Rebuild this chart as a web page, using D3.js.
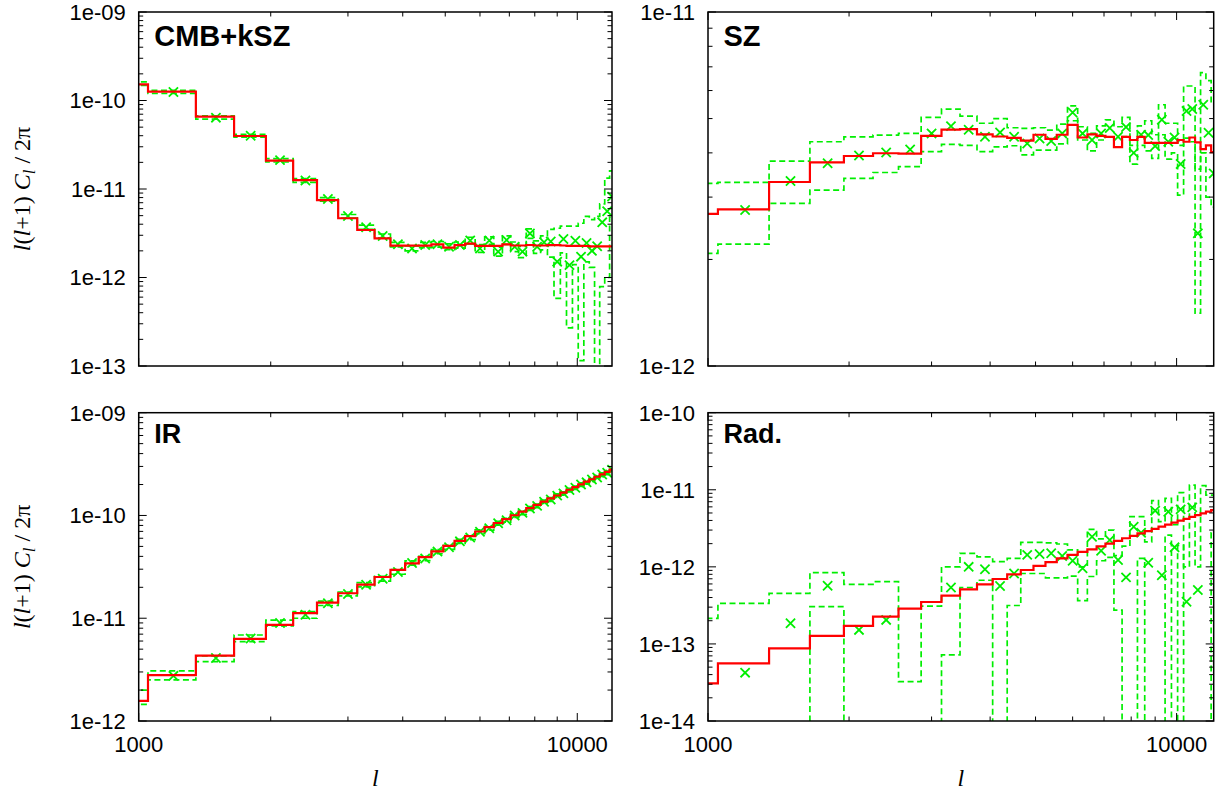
<!DOCTYPE html>
<html>
<head>
<meta charset='utf-8'>
<script src='https://d3js.org/d3.v7.min.js'></script>
<style>
  body { margin: 0; background: #fff; }
</style>
</head>
<body>
<div id='chart'></div>
<script>
// bin centres in l (bins are 300 wide)
const ells = [900, 1200, 1500, 1800, 2100, 2400, 2700, 3000, 3300, 3600,
              3900, 4200, 4500, 4800, 5100, 5400, 5700, 6000, 6300, 6600,
              6900, 7200, 7500, 7800, 8100, 8400, 8700, 9000, 9300, 9600,
              9900, 10200, 10500, 10800, 11100, 11400, 11700, 12000];
const binHalf = 150;
const lRange = [1000, 12000];

// CMB+kSZ
const cmbModel = [1.52e-10, 1.26e-10, 6.56e-11, 3.97e-11, 2.09e-11, 1.26e-11, 7.5e-12, 4.67e-12, 3.44e-12, 2.77e-12,
                  2.29e-12, 2.29e-12, 2.29e-12, 2.37e-12, 2.17e-12, 2.32e-12, 2.41e-12, 2.28e-12, 2.28e-12, 2.28e-12,
                  2.37e-12, 2.3e-12, 2.3e-12, 2.33e-12, 2.3e-12, 2.3e-12, 2.32e-12, 2.32e-12, 2.3e-12, 2.28e-12,
                  2.28e-12, 2.28e-12, 2.27e-12, 2.25e-12, 2.25e-12, 2.25e-12, 2.25e-12, 2.25e-12];
const cmbData = [1.55e-10, 1.25e-10, 6.4e-11, 4.0e-11, 2.12e-11, 1.25e-11, 7.7e-12, 4.95e-12, 3.7e-12, 2.94e-12,
                 2.37e-12, 2.13e-12, 2.33e-12, 2.37e-12, 2.23e-12, 2.33e-12, 2.62e-12, 2.13e-12, 2.62e-12, 1.96e-12,
                 2.65e-12, 2.23e-12, 1.96e-12, 3.15e-12, 2.23e-12, 2.5e-12, 2.55e-12, 1.51e-12, 2.72e-12, 1.38e-12,
                 2.6e-12, 1.72e-12, 2.45e-12, 2.0e-12, 2.25e-12, 4.2e-12, 5.6e-12, 8.2e-12];
const cmbHi = [1.62e-10, 1.3e-10, 6.7e-11, 4.15e-11, 2.2e-11, 1.31e-11, 8.0e-12, 5.15e-12, 3.9e-12, 3.1e-12,
               2.5e-12, 2.28e-12, 2.5e-12, 2.55e-12, 2.4e-12, 2.52e-12, 2.85e-12, 2.35e-12, 2.88e-12, 2.2e-12,
               2.95e-12, 2.52e-12, 2.25e-12, 3.55e-12, 2.6e-12, 2.95e-12, 3.5e-12, 3.6e-12, 3.8e-12, 3.8e-12,
               3.8e-12, 4.1e-12, 4.9e-12, 4.5e-12, 4.9e-12, 6.8e-12, 1.33e-11, 1.6e-11];
const cmbLo = [1.48e-10, 1.2e-10, 6.15e-11, 3.85e-11, 2.02e-11, 1.19e-11, 7.3e-12, 4.7e-12, 3.5e-12, 2.8e-12,
               2.22e-12, 2.0e-12, 2.17e-12, 2.2e-12, 2.07e-12, 2.15e-12, 2.4e-12, 1.92e-12, 2.37e-12, 1.74e-12,
               2.37e-12, 1.96e-12, 1.68e-12, 2.77e-12, 1.87e-12, 2.05e-12, 1.7e-12, 5.8e-13, 1.9e-12, 2.7e-13,
               1.4e-12, 1.15e-13, 1.5e-12, 1.3e-12, 0, 7.9e-13, 1.0e-12, 4.8e-12];

// SZ
const szModel = [2.69e-12, 2.77e-12, 3.31e-12, 3.76e-12, 3.92e-12, 3.99e-12, 3.98e-12, 4.47e-12, 4.65e-12, 4.67e-12,
                 4.51e-12, 4.45e-12, 4.41e-12, 4.33e-12, 4.5e-12, 4.38e-12, 4.5e-12, 4.8e-12, 4.42e-12, 4.51e-12,
                 4.47e-12, 4.44e-12, 4.15e-12, 4.44e-12, 4.35e-12, 4.44e-12, 4.27e-12, 4.27e-12, 4.27e-12, 4.27e-12,
                 4.27e-12, 4.35e-12, 4.3e-12, 4.42e-12, 4.28e-12, 4.1e-12, 4.2e-12, 4.02e-12];
const szData = [2.7e-12, 2.76e-12, 3.33e-12, 3.74e-12, 3.93e-12, 4.01e-12, 4.09e-12, 4.54e-12, 4.76e-12, 4.65e-12,
                4.44e-12, 4.57e-12, 4.44e-12, 4.25e-12, 4.39e-12, 4.32e-12, 4.54e-12, 5.2e-12, 4.54e-12, 4.35e-12,
                4.54e-12, 4.7e-12, 4.44e-12, 4.73e-12, 4.0e-12, 4.5e-12, 4.49e-12, 4.18e-12, 4.96e-12, 4.3e-12,
                4.42e-12, 3.72e-12, 5.25e-12, 5.32e-12, 2.37e-12, 5.47e-12, 4.56e-12, 3.5e-12];
const szHi = [3.28e-12, 3.3e-12, 3.79e-12, 4.3e-12, 4.44e-12, 4.49e-12, 4.54e-12, 5.04e-12, 5.32e-12, 5.08e-12,
              4.85e-12, 5.0e-12, 4.71e-12, 4.69e-12, 4.71e-12, 4.64e-12, 4.82e-12, 5.43e-12, 4.74e-12, 4.54e-12,
              4.77e-12, 4.96e-12, 4.74e-12, 5.04e-12, 4.2e-12, 4.77e-12, 4.93e-12, 4.5e-12, 5.47e-12, 4.85e-12,
              4.85e-12, 4.2e-12, 6.18e-12, 6.18e-12, 3.6e-12, 6.74e-12, 6.4e-12, 5.5e-12];
const szLo = [2.08e-12, 2.21e-12, 2.88e-12, 3.14e-12, 3.39e-12, 3.52e-12, 3.66e-12, 4.03e-12, 4.23e-12, 4.2e-12,
              4.03e-12, 4.16e-12, 4.19e-12, 3.95e-12, 4.07e-12, 4.07e-12, 4.24e-12, 4.93e-12, 4.35e-12, 4.05e-12,
              4.35e-12, 4.44e-12, 4.15e-12, 4.45e-12, 3.72e-12, 4.2e-12, 4.05e-12, 3.86e-12, 4.5e-12, 3.84e-12,
              4.0e-12, 3.04e-12, 4.4e-12, 4.3e-12, 1.41e-12, 4.0e-12, 3.0e-12, 2.81e-12];

// IR
const irModel = [1.57e-12, 2.79e-12, 4.33e-12, 6.3e-12, 8.6e-12, 1.12e-11, 1.42e-11, 1.75e-11, 2.12e-11, 2.52e-11,
                 2.95e-11, 3.42e-11, 3.93e-11, 4.47e-11, 5.05e-11, 5.66e-11, 6.3e-11, 6.98e-11, 7.7e-11, 8.45e-11,
                 9.23e-11, 1.005e-10, 1.09e-10, 1.18e-10, 1.27e-10, 1.365e-10, 1.465e-10, 1.565e-10, 1.67e-10, 1.78e-10,
                 1.89e-10, 2.01e-10, 2.13e-10, 2.25e-10, 2.38e-10, 2.51e-10, 2.65e-10, 2.79e-10];
const irData = [1.62e-12, 2.75e-12, 4.1e-12, 6.35e-12, 9.0e-12, 1.08e-11, 1.4e-11, 1.72e-11, 2.12e-11, 2.42e-11,
                2.82e-11, 3.45e-11, 3.82e-11, 4.45e-11, 4.9e-11, 5.6e-11, 6.1e-11, 6.95e-11, 7.5e-11, 8.4e-11,
                9.0e-11, 1.0e-10, 1.06e-10, 1.17e-10, 1.24e-10, 1.36e-10, 1.43e-10, 1.56e-10, 1.64e-10, 1.77e-10,
                1.86e-10, 2.0e-10, 2.1e-10, 2.24e-10, 2.34e-10, 2.5e-10, 2.6e-10, 2.78e-10];
const irHi = [2.0e-12, 3.07e-12, 4.3e-12, 6.87e-12, 9.6e-12, 1.16e-11, 1.47e-11, 1.8e-11, 2.22e-11, 2.55e-11,
              2.97e-11, 3.62e-11, 4.0e-11, 4.66e-11, 5.12e-11, 5.85e-11, 6.37e-11, 7.25e-11, 7.82e-11, 8.75e-11,
              9.37e-11, 1.04e-10, 1.1e-10, 1.22e-10, 1.29e-10, 1.41e-10, 1.49e-10, 1.62e-10, 1.7e-10, 1.84e-10,
              1.93e-10, 2.08e-10, 2.18e-10, 2.33e-10, 2.43e-10, 2.6e-10, 2.7e-10, 2.89e-10];
const irLo = [1.45e-12, 2.51e-12, 3.78e-12, 5.91e-12, 8.4e-12, 1.0e-11, 1.33e-11, 1.65e-11, 2.02e-11, 2.3e-11,
              2.68e-11, 3.28e-11, 3.64e-11, 4.24e-11, 4.68e-11, 5.35e-11, 5.83e-11, 6.65e-11, 7.18e-11, 8.05e-11,
              8.63e-11, 9.6e-11, 1.02e-10, 1.12e-10, 1.19e-10, 1.31e-10, 1.37e-10, 1.5e-10, 1.58e-10, 1.7e-10,
              1.79e-10, 1.92e-10, 2.02e-10, 2.15e-10, 2.25e-10, 2.4e-10, 2.5e-10, 2.67e-10];

// Rad. (0 = bound below the plot, null = no point)
const radModel = [3.08e-14, 5.6e-14, 8.77e-14, 1.27e-13, 1.71e-13, 2.26e-13, 2.87e-13, 3.5e-13, 4.23e-13, 5.11e-13,
                  5.94e-13, 6.96e-13, 8.0e-13, 9.1e-13, 1.03e-12, 1.15e-12, 1.29e-12, 1.43e-12, 1.56e-12, 1.69e-12,
                  1.84e-12, 2.0e-12, 2.17e-12, 2.35e-12, 2.53e-12, 2.72e-12, 2.91e-12, 3.11e-12, 3.32e-12, 3.53e-12,
                  3.75e-12, 3.97e-12, 4.2e-12, 4.45e-12, 4.7e-12, 4.95e-12, 5.2e-12, 5.45e-12];
const radData = [null, 4.24e-14, 1.85e-13, 5.7e-13, 1.52e-13, 2.05e-13, null, null, 5.4e-13, 1.0e-12,
                 9.3e-13, 5.65e-13, 8.2e-13, 1.43e-12, 1.47e-12, 1.5e-12, 1.38e-12, 1.2e-12, 9.6e-13, 2.46e-12,
                 1.62e-12, 2.23e-12, 1.23e-12, 7.3e-13, 3.32e-12, 2.77e-12, 1.13e-12, 5.36e-12, 7.8e-13, 5.2e-12,
                 1.79e-12, 5.57e-12, 3.53e-13, 5.91e-12, 5.0e-13, null, null, null];
const radHi = [2.15e-13, 3.36e-13, 4.54e-13, 8.4e-13, 5.94e-13, 6.43e-13, 3.24e-14, 3.1e-13, 1.0e-12, 1.5e-12,
               1.35e-12, 1.17e-12, 1.29e-12, 2.08e-12, 2.08e-12, 2.05e-12, 1.98e-12, 1.66e-12, 1.0e-12, 3.07e-12,
               2.3e-12, 3.0e-12, 1.4e-12, 1.86e-12, 4.48e-12, 4.48e-12, 2.11e-12, 7.22e-12, 3.86e-12, 7.74e-12,
               3.52e-12, 9.2e-12, 1.0e-12, 1.15e-11, 1.0e-12, 1.13e-11, 8.5e-12, 8.5e-12];
const radLo = [0, 0, 0, 3.04e-13, 0, 0, 0, 0, 7.2e-14, 5.4e-13,
               6.7e-13, 0, 3.15e-13, 8.2e-13, 8.2e-13, 7.2e-13, 7.2e-13, 7.6e-13, 3.64e-13, 7.5e-13,
               1.2e-12, 1.33e-12, 2.75e-13, 0, 0, 1.29e-12, 0, 0, 0, 2.58e-12,
               0, 1.9e-12, 0, 0, 0, 0, 0, 2.76e-12];

const panels = [
    {title: 'CMB+kSZ', model: cmbModel, data: cmbData, hi: cmbHi, lo: cmbLo, yDomain: [1e-13, 1e-9], col: 0, row: 0},
    {title: 'SZ', model: szModel, data: szData, hi: szHi, lo: szLo, yDomain: [1e-12, 1e-11], col: 1, row: 0},
    {title: 'IR', model: irModel, data: irData, hi: irHi, lo: irLo, yDomain: [1e-12, 1e-9], col: 0, row: 1},
    {title: 'Rad.', model: radModel, data: radData, hi: radHi, lo: radLo, yDomain: [1e-14, 1e-10], col: 1, row: 1}
];

const colX = [[138.7, 612], [708, 1213.7]];
const rowY = [[12, 366], [412.7, 721]];
const titleSize = [29, 27];
const GREEN = '#00ee00', RED = '#ff0000';
const SANS = '"Liberation Sans", Arial, Helvetica, sans-serif';
const SERIF = '"Liberation Serif", "Times New Roman", serif';

const svg = d3.select('#chart').append('svg')
    .attr('width', 1231)
    .attr('height', 793);
const defs = svg.append('defs');

function expLabel(v) {
    const e = Math.round(Math.log10(v));
    return '1e' + (e < 0 ? '-' : '+') + String(Math.abs(e)).padStart(2, '0');
}
const isMajor = v => Math.abs(Math.log10(v) - Math.round(Math.log10(v))) < 1e-6;

panels.forEach((p, idx) => {
    const [x0, x1] = colX[p.col];
    const [y0, y1] = rowY[p.row];
    const x = d3.scaleLog().domain(lRange).range([x0, x1]);
    const y = d3.scaleLog().domain(p.yDomain).range([y1, y0]);
    const yv = v => v > 0 ? y(v) : y1 + 30;

    defs.append('clipPath').attr('id', 'clip' + idx)
        .append('rect')
        .attr('x', x0).attr('y', y0)
        .attr('width', x1 - x0).attr('height', y1 - y0);

    const g = svg.append('g');
    const plot = g.append('g').attr('clip-path', 'url(#clip' + idx + ')');

    const step = vals => {
        const pts = [];
        ells.forEach((l, i) => {
            pts.push([x(l - binHalf), yv(vals[i])], [x(l + binHalf), yv(vals[i])]);
        });
        return d3.line()(pts);
    };

    // error band (dashed)
    [p.hi, p.lo].forEach(vals => {
        plot.append('path')
            .attr('d', step(vals))
            .attr('fill', 'none')
            .attr('stroke', GREEN)
            .attr('stroke-width', 1.7)
            .attr('stroke-dasharray', '6,3.5');
    });

    // data points
    const s = 4.6;
    plot.selectAll('.pt')
        .data(ells.map((l, i) => [l, p.data[i]]).filter(d => d[1] != null))
        .enter().append('path')
        .attr('d', d => {
            const cx = x(d[0]), cy = y(d[1]);
            return `M${cx - s},${cy - s}L${cx + s},${cy + s}M${cx - s},${cy + s}L${cx + s},${cy - s}`;
        })
        .attr('stroke', GREEN)
        .attr('stroke-width', 1.8)
        .attr('fill', 'none');

    // model
    plot.append('path')
        .attr('d', step(p.model))
        .attr('fill', 'none')
        .attr('stroke', RED)
        .attr('stroke-width', 2.2);

    // ticks, mirrored on all sides
    const ticks = g.append('g').attr('stroke', '#000').attr('stroke-width', 1);
    x.ticks().forEach(t => {
        const xx = x(t), len = isMajor(t) ? 8 : 4.5;
        ticks.append('line').attr('x1', xx).attr('x2', xx).attr('y1', y1).attr('y2', y1 - len);
        ticks.append('line').attr('x1', xx).attr('x2', xx).attr('y1', y0).attr('y2', y0 + len);
    });
    y.ticks().forEach(t => {
        const yy = y(t), len = isMajor(t) ? 8 : 4.5;
        ticks.append('line').attr('x1', x0).attr('x2', x0 + len).attr('y1', yy).attr('y2', yy);
        ticks.append('line').attr('x1', x1).attr('x2', x1 - len).attr('y1', yy).attr('y2', yy);
    });

    g.append('rect')
        .attr('x', x0).attr('y', y0)
        .attr('width', x1 - x0).attr('height', y1 - y0)
        .attr('fill', 'none')
        .attr('stroke', '#000')
        .attr('stroke-width', 1.5);

    // y tick labels
    y.ticks().filter(isMajor).forEach(t => {
        g.append('text')
            .attr('x', x0 - 13)
            .attr('y', y(t))
            .attr('dy', '0.36em')
            .attr('text-anchor', 'end')
            .attr('font-family', SANS)
            .attr('font-size', 22)
            .text(expLabel(t));
    });

    // x tick labels and label on bottom row
    if (p.row === 1) {
        x.ticks().filter(isMajor).forEach(t => {
            g.append('text')
                .attr('x', x(t))
                .attr('y', 751.5)
                .attr('text-anchor', 'middle')
                .attr('font-family', SANS)
                .attr('font-size', 22)
                .text(t);
        });
        g.append('text')
            .attr('x', (x0 + x1) / 2)
            .attr('y', 786)
            .attr('text-anchor', 'middle')
            .attr('font-family', SERIF)
            .attr('font-style', 'italic')
            .attr('font-size', 24)
            .text('l');
    }

    // y axis label on left column
    if (p.col === 0) {
        const lab = g.append('text')
            .attr('transform', `translate(30,${(y0 + y1) / 2}) rotate(-90)`)
            .attr('text-anchor', 'middle')
            .attr('font-family', SERIF)
            .attr('font-size', 24);
        lab.append('tspan').attr('font-style', 'italic').text('l');
        lab.append('tspan').text('(');
        lab.append('tspan').attr('font-style', 'italic').text('l');
        lab.append('tspan').text('+1) ');
        lab.append('tspan').attr('font-style', 'italic').text('C');
        lab.append('tspan').attr('font-style', 'italic').attr('font-size', 17).attr('dy', 5).text('l');
        lab.append('tspan').attr('dy', -5).text(' / 2\u03c0');
    }

    // panel title
    g.append('text')
        .attr('x', x0 + 15.5)
        .attr('y', p.row === 0 ? y0 + 33.7 : y0 + 30.5)
        .attr('font-family', SANS)
        .attr('font-weight', 'bold')
        .attr('font-size', titleSize[p.row])
        .text(p.title);
});
</script>
</body>
</html>
